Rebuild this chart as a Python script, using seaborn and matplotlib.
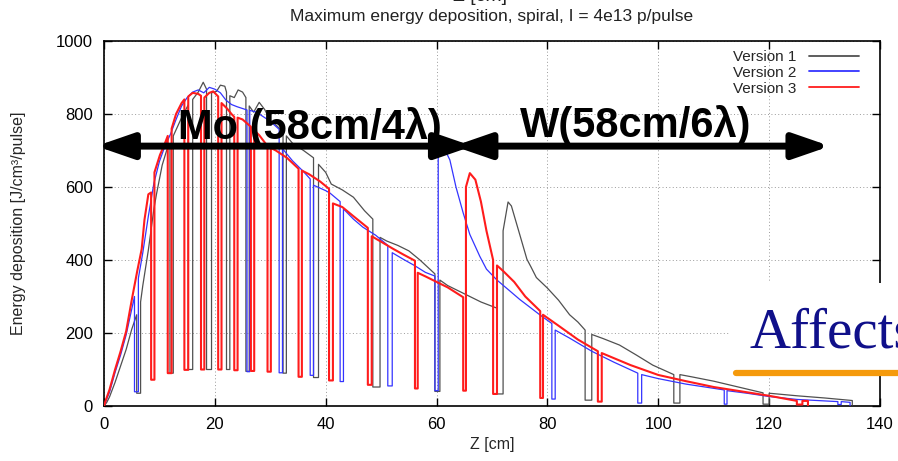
import pandas as pd
import matplotlib
matplotlib.use("Agg")
import matplotlib.pyplot as plt
from matplotlib.lines import Line2D
from matplotlib.patches import Rectangle
import seaborn as sns

# series names / styling
versions = ["Version 1", "Version 2", "Version 3"]
colors = ["#505050", "#3434ff", "#ff1c1c"]
widths = [0.9, 0.9, 1.5]

# Version 1 (gaps drawn as repeated z)
z_v1 = [0, 0.5, 1, 2, 3, 4, 5, 5.9, 5.9, 6.6, 6.6, 7, 8, 9, 9.5, 10.5, 11.3, 11.9, 11.9, 12.5, 12.5,
        14, 15.2, 15.2, 16.0, 16.0, 17, 17.9, 18.5, 18.5, 19.4, 19.4, 20.3, 21, 21.8, 22.1, 22.1, 22.7, 22.7,
        23.5, 24.2, 25, 25.6, 25.6, 26.2, 26.2, 27, 28, 29, 30, 31, 32.3, 32.3, 32.9, 32.9, 34, 36, 37.8,
        37.8, 38.7, 38.7, 40, 41, 43, 45, 47, 48.5, 48.5, 49.8, 49.8, 51, 53, 55, 57, 59.7, 59.7, 60.6, 60.6,
        62, 64, 66, 68, 70.9, 70.9, 72, 72, 72.9, 73.5, 75, 76.3, 77, 78, 80, 82, 84, 85.5, 86.8, 86.8, 88,
        88, 90, 93, 96, 99, 102.8, 102.8, 103.9, 103.9, 106, 110, 115, 118.9, 118.9, 120, 120, 125, 130,
        135, 135]
e_v1 = [0, 10, 25, 65, 110, 155, 210, 250, 35, 35, 285, 330, 427, 540, 583, 660, 700, 718, 90, 90, 740,
        790, 825, 100, 100, 840, 860, 887, 868, 100, 100, 858, 862, 879, 876, 860, 100, 100, 850,
        845, 866, 860, 845, 95, 95, 822, 805, 832, 812, 782, 770, 752, 90, 90, 740, 720, 700, 680,
        78, 78, 662, 640, 608, 592, 572, 535, 512, 52, 52, 462, 452, 440, 425, 400, 362, 40, 40, 345,
        330, 315, 300, 285, 268, 33, 33, 480, 559, 548, 470, 402, 382, 352, 323, 290, 250, 230, 208, 16, 16,
        196, 185, 167, 140, 112, 86, 8, 8, 86, 80, 68, 50, 36, 5, 5, 35, 28, 22,
        15, 3]

# Version 2
z_v2 = [0, 0.3, 1, 2, 3, 4, 5, 5.5, 5.5, 6.2, 6.2, 7, 8, 9, 10, 11, 12, 13, 14, 15, 16, 17, 18, 19, 20,
        21, 22, 23, 24, 25, 25.8, 25.8, 26.3, 26.3, 27.5, 29, 30, 31.6, 31.6, 32.2, 32.2, 34, 36, 37.2,
        37.2, 37.8, 37.8, 40, 40.8, 42.6, 42.6, 43.2, 43.2, 45, 46.7, 49, 51.2, 51.2, 52, 52, 54, 56, 58,
        59.7, 59.7, 60.3, 60.3, 61, 62.4, 63.5, 64.8, 66, 67.8, 69, 70.9, 73, 75, 78.7, 80.8, 80.8, 81.4,
        81.4, 84, 88, 92, 96.3, 96.3, 97, 97, 100, 105, 111.9, 111.9, 112.4, 112.4, 116, 120, 125, 132.4,
        132.4, 133, 133, 134.6, 134.6]
e_v2 = [0, 12, 38, 92, 140, 195, 265, 300, 39, 39, 350, 420, 520, 610, 670, 712, 745, 785, 822, 845, 860,
        866, 858, 873, 868, 858, 838, 826, 820, 815, 811, 94, 94, 810, 805, 790, 780, 758, 91, 91, 705,
        672, 642, 622, 84, 84, 605, 590, 583, 560, 67, 67, 540, 512, 490, 468, 440, 55, 55, 420, 402, 385,
        366, 356, 42, 42, 734, 718, 674, 600, 529, 470, 410, 375, 345, 318, 292, 249, 226, 19, 19, 208,
        186, 150, 120, 90, 8, 8, 86, 75, 60, 44, 5, 5, 42, 35, 26, 18, 12, 4, 4, 12, 10, 0]

# Version 3
z_v3 = [0, 0.3, 1, 2, 3, 4, 5, 6, 6.8, 7.3, 8.0, 8.5, 8.5, 9.1, 9.1, 10.1, 11.0, 11.5, 11.5, 12.2, 12.2,
        13.0, 14.0, 14.5, 14.5, 15.2, 15.2, 16.0, 17.0, 17.5, 17.5, 18.1, 18.1, 19.0, 19.7, 20.6, 20.6,
        21.2, 21.2, 22.2, 23.0, 23.5, 23.5, 24.1, 24.1, 25.0, 26.5, 26.5, 27.1, 27.1, 28.0, 29.5, 29.5,
        30.1, 30.1, 31.0, 33.0, 35.1, 35.1, 35.7, 35.7, 37.0, 39.0, 40.6, 40.6, 41.3, 41.3, 43.0, 45.0,
        47.6, 47.6, 48.3, 48.3, 50.0, 52.0, 54.0, 56.1, 56.1, 56.6, 56.6, 58.0, 60.0, 62.0, 64.8, 64.8,
        65.3, 65.3, 66.0, 67.0, 68.0, 69.0, 70.2, 70.2, 70.9, 70.9, 72.0, 74.0, 76.0, 78.7, 78.7, 79.2,
        79.2, 82.0, 85.5, 89.1, 89.1, 89.8, 89.8, 95.0, 100.0, 105.0, 110.0, 115.0, 120.0, 125.0, 125.0,
        126.0, 126.0, 127.0, 127.0]
e_v3 = [0, 15, 45, 100, 150, 205, 290, 370, 430, 510, 580, 585, 72, 72, 640, 688, 720, 740, 90, 90, 760,
        800, 830, 840, 99, 99, 848, 858, 855, 850, 100, 100, 845, 858, 862, 848, 100,
        100, 830, 815, 800, 792, 98, 98, 790, 785, 765, 96, 96, 755, 742, 712, 94,
        94, 707, 700, 680, 650, 80, 80, 645, 635, 615, 595, 70, 70, 555, 545, 520,
        488, 58, 58, 465, 450, 432, 415, 398, 48, 48, 365, 355, 340, 325, 298, 42,
        42, 600, 638, 620, 560, 480, 400, 33, 33, 385, 370, 340, 300, 260, 22, 22,
        250, 220, 182, 150, 12, 12, 145, 112, 85, 68, 52, 40, 28, 14, 4,
        4, 14, 14, 2]

x_ticks = [0, 20, 40, 60, 80, 100, 120, 140]
y_ticks = [0, 200, 400, 600, 800, 1000]

sns.set_theme(style="ticks")
plt.rcParams["font.family"] = ["Liberation Sans", "DejaVu Sans"]

W, H = 898, 461
fig = plt.figure(figsize=(W / 100, H / 100), dpi=100)
ax = fig.add_axes([104 / W, 1 - 406 / H, 776 / W, 365 / H])

frames = []
for name, z, e in zip(versions, [z_v1, z_v2, z_v3], [e_v1, e_v2, e_v3]):
    frames.append(pd.DataFrame({"z": z, "E": e, "version": name}))
df = pd.concat(frames, ignore_index=True)

for name, col, lw in zip(versions, colors, widths):
    sns.lineplot(data=df[df.version == name], x="z", y="E", color=col, lw=lw,
                 sort=False, estimator=None, ax=ax, zorder=3)

ax.set_xlim(0, 140)
ax.set_ylim(0, 1000)
ax.set_xticks(x_ticks)
ax.set_yticks(y_ticks)
ax.grid(True, color="#9a9a9a", lw=0.7, linestyle=(0, (1, 2.5)))
ax.tick_params(direction="in", length=6, width=1, top=True, right=True,
               labelsize=12, colors="black", pad=8)
for s in ax.spines.values():
    s.set_linewidth(1.2)
    s.set_color("black")

ax.set_xlabel("Z [cm]", fontsize=11.5)
ax.set_ylabel("Energy deposition [J/cm³/pulse]", fontsize=11.5)
ax.xaxis.set_label_coords(0.5, -(437 - 406) / 365)
ax.yaxis.set_label_coords(-(104 - 26) / 776, 0.5)

fig.text(492 / W, 1 - 16 / H, "Maximum energy deposition, spiral, I = 4e13 p/pulse",
         ha="center", va="center", fontsize=12.5, color="#222222")
fig.text(480 / W, 1 + 3 / H, "Z [cm]", ha="center", va="center", fontsize=14, color="#222222")

# legend on the right, line after text
handles = [Line2D([], [], color=c, lw=1.3) for c in colors]
ax.legend(handles, versions, loc="upper right", frameon=False, markerfirst=False,
          fontsize=11, handlelength=3.3, handletextpad=0.8, labelspacing=0.12,
          borderpad=0, borderaxespad=0,
          bbox_to_anchor=((859 - 104) / 776, 1 - 9 / 365))

# double arrows and material labels (ends pushed out to make up for head stroke)
arrow_y = 712
for z0, z1 in [(-1.4, 66.5), (63.1, 131.0)]:
    ax.annotate("", xy=(z0, arrow_y), xytext=(z1, arrow_y), zorder=6,
                annotation_clip=False,
                arrowprops=dict(arrowstyle="<|-|>,head_length=1.1,head_width=0.38",
                                mutation_scale=20, lw=5, color="black",
                                shrinkA=0, shrinkB=0))
ax.text(13.3, 731, "Mo (58cm/4λ)", fontsize=30, fontweight="bold", color="black", zorder=7)
ax.text(75.0, 737, "W(58cm/6λ)", fontsize=30, fontweight="bold", color="black", zorder=7)

# pasted label box at right edge
fig.add_artist(Rectangle((730 / W, 1 - 376 / H), 200 / W, 93 / H, transform=fig.transFigure,
                         facecolor="white", edgecolor="none", zorder=10))
fig.text(750 / W, 1 - 347 / H, "Affects", fontsize=41, family="Liberation Serif",
         color="#10108a", va="baseline", zorder=11)
fig.add_artist(Line2D([736 / W, 1.0], [1 - 373 / H] * 2, lw=4.5, color="#f59a0c",
                      transform=fig.transFigure, zorder=11))

fig.savefig("out.png", dpi=100)
